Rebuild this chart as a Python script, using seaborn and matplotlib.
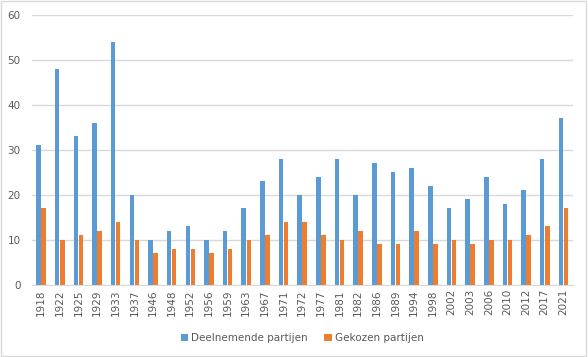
import numpy as np
import matplotlib.pyplot as plt
import seaborn as sns
import pandas as pd

# verkiezingsjaren en aantallen partijen
jaren = ["1918", "1922", "1925", "1929", "1933", "1937", "1946", "1948", "1952",
         "1956", "1959", "1963", "1967", "1971", "1972", "1977", "1981", "1982",
         "1986", "1989", "1994", "1998", "2002", "2003", "2006", "2010", "2012",
         "2017", "2021"]
deelnemend = [31, 48, 33, 36, 54, 20, 10, 12, 13, 10, 12, 17, 23, 28, 20, 24, 28, 20,
              27, 25, 26, 22, 17, 19, 24, 18, 21, 28, 37]
gekozen = [17, 10, 11, 12, 14, 10, 7, 8, 8, 7, 8, 10, 11, 14, 14, 11, 10, 12,
           9, 9, 12, 9, 10, 9, 10, 10, 11, 13, 17]

df = pd.DataFrame({"Jaar": jaren * 2,
                   "Aantal": deelnemend + gekozen,
                   "Reeks": ["Deelnemende partijen"] * len(jaren) + ["Gekozen partijen"] * len(jaren)})

sns.set_style("white")
plt.rcParams['font.family'] = ['DejaVu Sans']

fig = plt.figure(figsize=(5.88, 3.57), dpi=100)
ax = fig.add_axes([0.054, 0.202, 0.920, 0.756])

sns.barplot(data=df, x="Jaar", y="Aantal", hue="Reeks",
            palette=["#5B9BD5", "#ED7D31"], width=0.54, gap=0.1,
            linewidth=0, saturation=1, ax=ax, errorbar=None)

ax.set_ylim(0, 60)
ax.set_yticks(range(0, 61, 10))
ax.set_xlim(-0.5, len(jaren) - 0.5)
ax.grid(axis="y", color="#D9D9D9", linewidth=1)
ax.set_axisbelow(True)
for s in ["top", "right", "left"]:
    ax.spines[s].set_visible(False)
ax.spines["bottom"].set_color("#D9D9D9")
ax.tick_params(axis="both", length=0, labelsize=7.5, colors="#595959")
ax.tick_params(axis="x", rotation=90, pad=3)
ax.tick_params(axis="y", pad=8)
ax.set_xlabel("")
ax.set_ylabel("")

ax.legend(loc="center", bbox_to_anchor=(0.5, -0.197), ncol=2, frameon=False,
          fontsize=7.5, labelcolor="#595959", handlelength=0.7, handleheight=0.7,
          columnspacing=1.6, handletextpad=0.3)

fig.patches.append(plt.Rectangle((0.002, 0.003), 0.995, 0.993, transform=fig.transFigure,
                                 fill=False, edgecolor="#D9D9D9", linewidth=1))

fig.savefig("out.png", dpi=100)
